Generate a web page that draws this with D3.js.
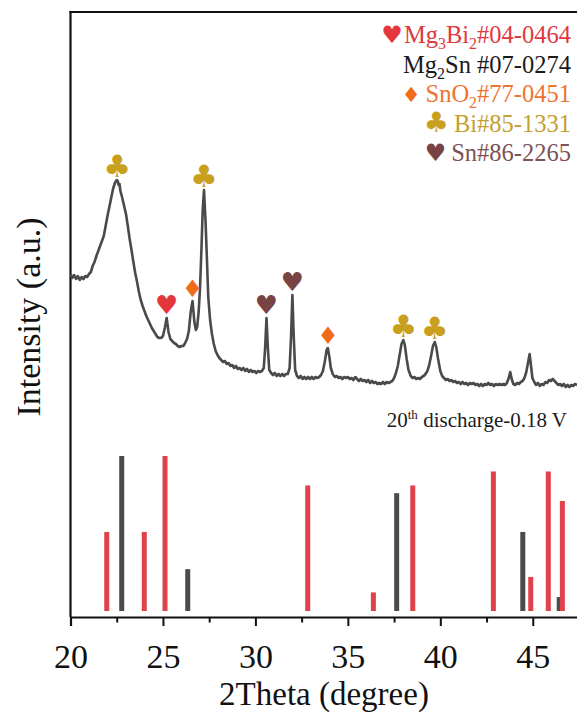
<!DOCTYPE html>
<html>
<head>
<meta charset="utf-8">
<script src="https://cdn.jsdelivr.net/npm/d3@7"></script>
<style>
  body { margin: 0; background: #fff; }
  svg { display: block; }
</style>
</head>
<body>
<script>
// XRD pattern after the 20th discharge (0.18 V)
const twoTheta = [
  20.00,20.10,20.20,20.30,20.40,20.50,20.60,20.70,20.80,20.90,
  21.00,21.10,21.20,21.30,21.40,21.50,21.60,21.70,21.80,21.90,
  22.00,22.10,22.20,22.30,22.40,22.50,22.55,22.60,22.65,22.70,
  22.80,22.90,23.00,23.10,23.20,23.30,23.40,23.50,23.60,23.70,
  23.80,23.90,24.00,24.10,24.20,24.30,24.40,24.50,24.60,24.70,
  24.80,24.90,25.00,25.10,25.20,25.30,25.40,25.50,25.60,25.70,
  25.80,25.90,26.00,26.10,26.20,26.30,26.40,26.50,26.60,26.70,
  26.78,26.85,26.93,27.00,27.08,27.15,27.22,27.30,27.38,27.45,
  27.55,27.65,27.75,27.85,27.95,28.05,28.15,28.25,28.35,28.45,
  28.55,28.65,28.75,28.85,28.95,29.05,29.15,29.25,29.35,29.45,
  29.55,29.65,29.75,29.85,29.95,30.05,30.15,30.25,30.35,30.45,
  30.52,30.60,30.68,30.75,30.85,30.95,31.05,31.15,31.25,31.35,
  31.45,31.55,31.65,31.75,31.85,31.93,32.00,32.07,32.15,32.25,
  32.35,32.45,32.55,32.65,32.75,32.85,32.95,33.05,33.15,33.25,
  33.35,33.45,33.55,33.65,33.75,33.85,33.92,34.00,34.08,34.18,
  34.30,34.40,34.50,34.60,34.70,34.80,34.90,35.00,35.10,35.20,
  35.30,35.40,35.50,35.60,35.70,35.80,35.90,36.00,36.10,36.20,
  36.30,36.40,36.50,36.60,36.70,36.80,36.90,37.00,37.10,37.20,
  37.30,37.40,37.50,37.60,37.70,37.80,37.90,38.00,38.08,38.18,
  38.28,38.40,38.50,38.60,38.70,38.80,38.90,39.00,39.10,39.20,
  39.30,39.40,39.50,39.60,39.70,39.78,39.88,40.00,40.10,40.20,
  40.30,40.40,40.50,40.60,40.70,40.80,40.90,41.00,41.10,41.20,
  41.30,41.40,41.50,41.60,41.70,41.80,41.90,42.00,42.10,42.20,
  42.30,42.40,42.50,42.60,42.70,42.80,42.90,43.00,43.10,43.20,
  43.30,43.40,43.50,43.60,43.70,43.78,43.86,43.95,44.05,44.15,
  44.25,44.35,44.45,44.55,44.65,44.75,44.83,44.90,44.98,45.08,
  45.18,45.28,45.38,45.48,45.58,45.68,45.78,45.88,45.98,46.08,
  46.18,46.28,46.38,46.48,46.58,46.68,46.78,46.88,46.98,47.08,
  47.18,47.28,47.40
];
const intensity = [
  337,333,336,332,335,331,334,332,335,334,
  337,339,345,349,355,360,365,370,375,385,
  395,404,413,422,428,431,430,426,427,420,
  413,405,397,385,372,361,349,338,329,319,
  311,305,300,295,291,287,283,280,277,274,
  273,273,275,283,293,279,272,270,268,267,
  265,264,265,265,268,272,280,299,310,289,
  281,284,299,321,361,401,421,391,351,314,
  291,277,267,260,256,253,251,249,250,247,
  248,245,246,243,245,242,243,241,243,240,
  242,239,241,239,240,238,240,239,240,243,
  261,293,261,241,238,236,238,235,237,235,
  237,235,237,237,243,276,316,276,241,235,
  233,235,232,234,232,234,232,234,232,234,
  233,234,236,240,249,261,263,254,243,237,
  234,235,233,234,232,234,233,234,232,233,
  231,234,232,230,232,230,231,229,231,228,
  230,228,229,227,228,227,229,227,229,228,
  229,230,233,238,245,256,267,271,266,252,
  241,235,233,234,232,233,232,234,235,237,
  240,246,255,265,269,264,252,240,235,233,
  231,232,230,231,229,230,228,229,227,229,
  227,228,226,228,227,228,226,227,225,227,
  225,227,226,228,226,227,225,227,226,227,
  226,227,226,228,233,239,232,227,226,228,
  227,229,230,233,239,249,257,246,233,229,
  226,228,225,227,226,229,228,231,230,232,
  230,228,226,227,225,227,224,226,224,226,
  225,227,226
];

// Standard reference lines (relative intensity, %)
const mg3bi2Theta = [21.96, 23.99, 25.11, 32.83, 36.38, 38.51, 42.87, 44.89, 45.84, 46.60];
const mg3bi2Rel   = [51, 51, 100, 81, 12, 81, 90, 22, 90, 71];
const mg2snTheta  = [22.77, 26.34, 37.64, 44.46, 46.43];
const mg2snRel    = [100, 27, 76, 51, 9];

// Phase markers above the pattern
const markerTheta = [22.52, 25.2, 26.6, 27.22, 30.6, 32.0, 33.92, 38.0, 39.7];
const markerPhase = ["Bi", "Mg3Bi2", "SnO2", "Bi", "Sn", "Sn", "SnO2", "Bi", "Bi"];

// Legend
const legendPhases = ["Mg3Bi2", "Mg2Sn", "SnO2", "Bi", "Sn"];
const legendLabels = [
  [["Mg"], ["3", "sub"], ["Bi"], ["2", "sub"], ["#04-0464"]],
  [["Mg"], ["2", "sub"], ["Sn #07-0274"]],
  [["SnO"], ["2", "sub"], ["#77-0451"]],
  [["Bi#85-1331"]],
  [["Sn#86-2265"]]
];

const xTicks = [20, 25, 30, 35, 40, 45];
const xMinorTicks = [22.5, 27.5, 32.5, 37.5, 42.5, 47.5];

const phaseGlyph = { Mg3Bi2: "\u2665", Mg2Sn: "", SnO2: "\u2666", Bi: "\u2663", Sn: "\u2665" };
const phaseColor = { Mg3Bi2: "#e3363d", Mg2Sn: "#1b1b1b", SnO2: "#ef6c1a", Bi: "#c9a01d", Sn: "#7a4343" };
const textColor  = { Mg3Bi2: "#e0393f", Mg2Sn: "#1b1b1b", SnO2: "#ee7330", Bi: "#c4a032", Sn: "#7b5354" };

const W = 577, H = 716;
const serif = "'Liberation Serif', 'Times New Roman', serif";
const symFont = "'DejaVu Sans'";
const svg = d3.select("body").append("svg").attr("width", W).attr("height", H);

const x = d3.scaleLinear().domain([20, 47.5]).range([70.5, 579]);
const y = d3.scaleLinear().domain([0, 600]).range([611, 11]);
const yRef = d3.scaleLinear().domain([0, 100]).range([611, 456]);
const axisY = 617, topY = 12;

// frame
svg.append("line").attr("x1", 69.5).attr("x2", W + 5).attr("y1", topY).attr("y2", topY)
  .attr("stroke", "#111").attr("stroke-width", 2.2);
svg.append("line").attr("x1", 70.5).attr("x2", 70.5).attr("y1", topY - 1).attr("y2", axisY)
  .attr("stroke", "#111").attr("stroke-width", 2.2);

// x axis
const gx = svg.append("g").attr("transform", `translate(0,${axisY})`)
  .call(d3.axisBottom(x).tickValues(xTicks).tickSize(9).tickFormat(d3.format("d")));
gx.attr("font-family", serif).attr("font-size", 34);
gx.select(".domain").attr("stroke", "#111").attr("stroke-width", 2.2);
gx.selectAll(".tick line").attr("stroke", "#111").attr("stroke-width", 2);
gx.selectAll(".tick text").attr("y", 51).attr("dy", null).attr("fill", "#111");
const gm = svg.append("g").attr("transform", `translate(0,${axisY})`)
  .call(d3.axisBottom(x).tickValues(xMinorTicks).tickSize(5.5).tickFormat(""));
gm.select(".domain").remove();
gm.selectAll(".tick line").attr("stroke", "#111").attr("stroke-width", 2);

// axis titles
svg.append("text").attr("x", 324).attr("y", 705).attr("text-anchor", "middle")
  .attr("font-family", serif).attr("font-size", 33).attr("fill", "#111")
  .text("2Theta (degree)");
svg.append("text").attr("transform", "translate(40,317) rotate(-90)").attr("text-anchor", "middle")
  .attr("font-family", serif).attr("font-size", 34).attr("fill", "#111")
  .text("Intensity (a.u.)");

// reference sticks
const sticks = [
  ...mg2snTheta.map((t, i) => ({ t, v: mg2snRel[i], c: "#4b4b4b" })),
  ...mg3bi2Theta.map((t, i) => ({ t, v: mg3bi2Rel[i], c: "#e0414a" }))
];
svg.append("g").selectAll("line").data(sticks).join("line")
  .attr("x1", d => x(d.t)).attr("x2", d => x(d.t))
  .attr("y1", yRef(0)).attr("y2", d => yRef(d.v))
  .attr("stroke", d => d.c).attr("stroke-width", 5);

// pattern
const pts = twoTheta.map((t, i) => [t, intensity[i]]);
svg.append("path").datum(pts)
  .attr("d", d3.line().x(d => x(d[0])).y(d => y(d[1])))
  .attr("fill", "none").attr("stroke", "#4a4a4a").attr("stroke-width", 2.6)
  .attr("stroke-linejoin", "round");

// markers sit just above the local maximum of the pattern
const glyphSize = { Mg3Bi2: 26, SnO2: 24, Bi: 31, Sn: 26 };
const peakOf = t => d3.max(pts.filter(p => Math.abs(p[0] - t) < 0.12), p => p[1]);
svg.append("g").selectAll("text").data(markerTheta.map((t, i) => ({ t, ph: markerPhase[i] }))).join("text")
  .attr("x", d => x(d.t)).attr("y", d => y(peakOf(d.t)) - (d.ph === "Bi" ? 3 : 4))
  .attr("text-anchor", "middle").attr("font-family", symFont)
  .attr("font-size", d => glyphSize[d.ph])
  .attr("fill", d => phaseColor[d.ph]).text(d => phaseGlyph[d.ph]);

// legend
const legX = 571, legY0 = 43, legDy = 29.6;
legendPhases.forEach((ph, i) => {
  const t = svg.append("text").attr("x", legX).attr("y", legY0 + i * legDy)
    .attr("text-anchor", "end").attr("font-family", serif).attr("font-size", 24.5)
    .attr("fill", textColor[ph]);
  let shift = 0;
  legendLabels[i].forEach(seg => {
    const sub = seg[1] === "sub";
    const dy = sub ? 6 - shift : -shift;
    shift = sub ? 6 : 0;
    t.append("tspan").attr("font-size", sub ? 16 : null).attr("dy", dy || null).text(seg[0]);
  });
  if (phaseGlyph[ph]) {
    const bb = t.node().getBBox();
    svg.append("text").attr("x", bb.x - (ph === "Mg3Bi2" ? 1 : 5)).attr("y", legY0 + i * legDy)
      .attr("text-anchor", "end").attr("font-family", symFont)
      .attr("font-size", ph === "SnO2" ? 21 : ph === "Bi" ? 28 : 24).attr("fill", phaseColor[ph])
      .text(phaseGlyph[ph]);
  }
});

// sample condition
const ann = svg.append("text").attr("x", 567).attr("y", 427).attr("text-anchor", "end")
  .attr("font-family", serif).attr("font-size", 21).attr("fill", "#1b1b1b");
ann.append("tspan").text("20");
ann.append("tspan").attr("font-size", 13).attr("dy", -8).text("th");
ann.append("tspan").attr("dy", 8).text(" discharge-0.18 V");
</script>
</body>
</html>
